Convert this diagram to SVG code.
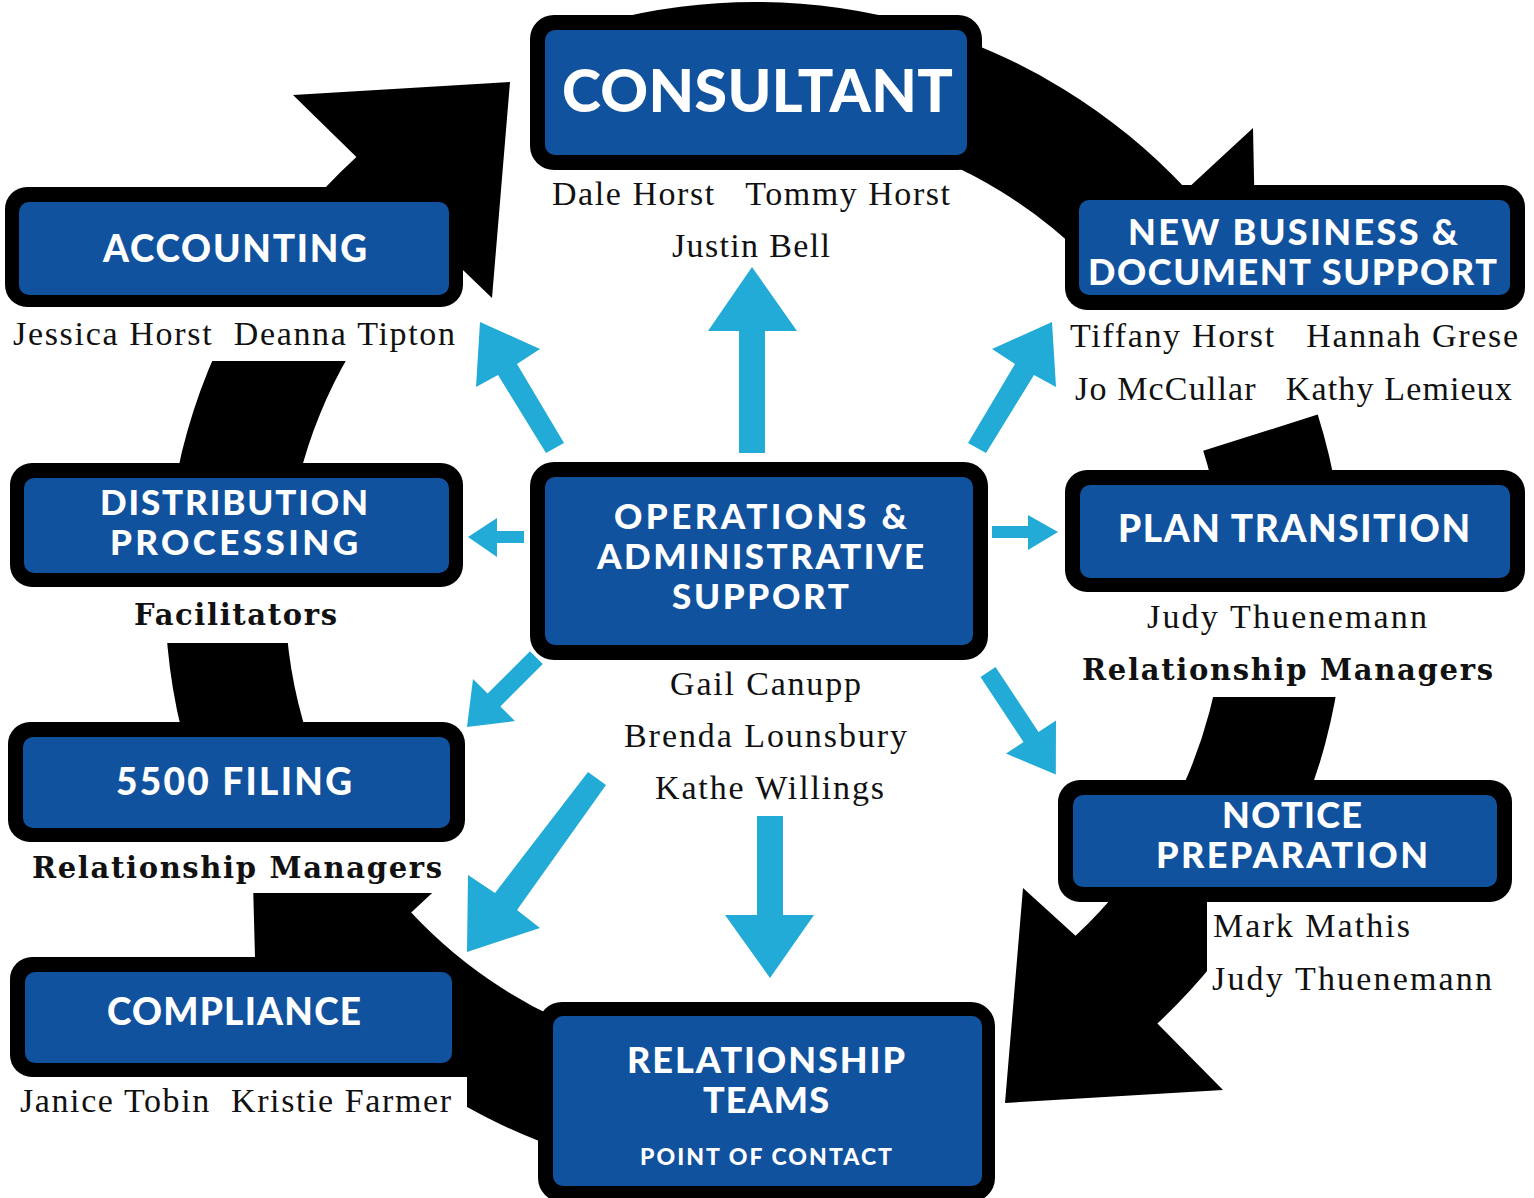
<svg xmlns="http://www.w3.org/2000/svg" width="1534" height="1198" viewBox="0 0 1534 1198">
<style>
.ring{fill:#000}
.bg{fill:#fff}
.ob{fill:#000}
.ib{fill:#11529f}
.h{font-family:Lato,"Open Sans","Liberation Sans",sans-serif;font-weight:900;fill:#fff;font-size:36px}
.h2{font-family:Lato,"Open Sans","Liberation Sans",sans-serif;font-weight:900;fill:#fff;font-size:35px}
.n{font-family:"Liberation Serif",serif;font-size:34px;fill:#111}
.nb{font-family:"DejaVu Serif","Liberation Serif",serif;font-size:29px;font-weight:bold;fill:#111}
.ar{fill:#21abd6}
</style>
<rect width="1534" height="1198" fill="#fff"/>
<g id="cycle">
<path class="ring" d="M200.6,793.8 A590,590 0 0 1 356.4,157 L293,95 L510,82 L492,298 L437.5,245.5 A470,470 0 0 0 313.3,752.7 Z"/>
<path class="ring" d="M602.3,22.1 A590,590 0 0 1 1186.5,189.6 L1253,128 L1256.8,315.5 L1069.5,298.7 L1098.8,271.5 A470,470 0 0 0 633.4,138 Z"/>
<path class="ring" d="M1317.7,414.6 A590,590 0 0 1 1157.4,1023.5 L1223,1090 L1005,1103 L1023,888 L1075.5,935.8 A470,470 0 0 0 1203.2,450.7 Z"/>
<path class="ring" d="M857.4,1173 A590,590 0 0 1 323.5,994.4 L257.6,1055.8 L252.3,855.7 L451.5,875 L411.2,912.5 A470,470 0 0 0 836.6,1054.9 Z"/>
</g>
<g id="label-backgrounds">
<rect class="bg" x="0" y="307" width="470" height="54"/>
<rect class="bg" x="0" y="587" width="470" height="56"/>
<rect class="bg" x="0" y="842" width="462" height="51"/>
<rect class="bg" x="0" y="1077" width="467" height="121"/>
<rect class="bg" x="1062" y="308" width="472" height="104"/>
<rect class="bg" x="1062" y="592" width="472" height="105"/>
<rect class="bg" x="1207" y="902" width="327" height="98"/>
</g>
<g id="connectors">
<polygon class="ar" points="752,267 797,331 765,331 765,453 739,453 739,331 708,331"/>
<polygon class="ar" points="480,322 540,349 517,364 564,443 546,453 498,375 476,387"/>
<polygon class="ar" points="1052,322 1056,387 1034,375 986,453 968,443 1015,364 992,349"/>
<polygon class="ar" points="468,537 497,518 497,531 524,531 524,543 497,543 497,557"/>
<polygon class="ar" points="1058,532 1028,515 1028,526 992,526 992,538 1028,538 1028,550"/>
<polygon class="ar" points="467,727 473,679 487.6,693.6 530,651.2 542.8,664 500.4,706.4 515,721"/>
<polygon class="ar" points="467,952 468,875 495,893 588,772 606,785 517,910 540,928"/>
<polygon class="ar" points="770,978 814,915 783,915 783,816 757,816 757,915 725,915"/>
<polygon class="ar" points="1055.8,774.5 1006,753.6 1023.5,742 980.5,677 995.5,667 1038.5,732 1056,720.4"/>
</g>
<g id="consultant">
<rect class="ob" x="530" y="15" width="452" height="155" rx="24"/>
<rect class="ib" x="545" y="30" width="422" height="125" rx="10"/>
<text class="h" x="562" y="112" style="font-size:59px" textLength="391" lengthAdjust="spacing">CONSULTANT</text>
<text class="n" xml:space="preserve" x="552" y="205" textLength="398">Dale Horst   Tommy Horst</text>
<text class="n" x="672" y="257" textLength="158">Justin Bell</text>
</g>
<g id="accounting">
<rect class="ob" x="5" y="187" width="458" height="120" rx="22"/>
<rect class="ib" x="19" y="202" width="430" height="93" rx="10"/>
<text class="h" x="103" y="262" style="font-size:37px" textLength="264" lengthAdjust="spacing">ACCOUNTING</text>
<text class="n" xml:space="preserve" x="13" y="345" textLength="442">Jessica Horst  Deanna Tipton</text>
</g>
<g id="new-business">
<rect class="ob" x="1065" y="185" width="460" height="125" rx="22"/>
<rect class="ib" x="1079" y="200" width="431" height="95" rx="10"/>
<text class="h" x="1128" y="245" textLength="330" lengthAdjust="spacing">NEW BUSINESS &amp;</text>
<text class="h" x="1088" y="285" textLength="409" lengthAdjust="spacing">DOCUMENT SUPPORT</text>
<text class="n" xml:space="preserve" x="1070" y="347" textLength="448">Tiffany Horst   Hannah Grese</text>
<text class="n" xml:space="preserve" x="1075" y="400" textLength="437">Jo McCullar   Kathy Lemieux</text>
</g>
<g id="distribution">
<rect class="ob" x="10" y="463" width="453" height="124" rx="22"/>
<rect class="ib" x="24" y="478" width="425" height="95" rx="10"/>
<text class="h2" x="100" y="515" textLength="268" lengthAdjust="spacing">DISTRIBUTION</text>
<text class="h2" x="110" y="555" textLength="248" lengthAdjust="spacing">PROCESSING</text>
<text class="nb" x="134" y="625" textLength="203">Facilitators</text>
</g>
<g id="operations">
<rect class="ob" x="530" y="462" width="458" height="198" rx="24"/>
<rect class="ib" x="545" y="477" width="428" height="168" rx="10"/>
<text class="h2" x="614" y="529" textLength="293" lengthAdjust="spacing">OPERATIONS &amp;</text>
<text class="h2" x="597" y="569" textLength="327" lengthAdjust="spacing">ADMINISTRATIVE</text>
<text class="h2" x="672" y="609" textLength="177" lengthAdjust="spacing">SUPPORT</text>
<text class="n" x="670" y="695" textLength="191">Gail Canupp</text>
<text class="n" x="624" y="747" textLength="283">Brenda Lounsbury</text>
<text class="n" x="655" y="799" textLength="229">Kathe Willings</text>
</g>
<g id="plan-transition">
<rect class="ob" x="1065" y="470" width="460" height="122" rx="22"/>
<rect class="ib" x="1080" y="485" width="430" height="93" rx="10"/>
<text class="h" x="1118" y="542" style="font-size:37px" textLength="352" lengthAdjust="spacing">PLAN TRANSITION</text>
<text class="n" x="1147" y="628" textLength="280">Judy Thuenemann</text>
<text class="nb" x="1082" y="680" textLength="411">Relationship Managers</text>
</g>
<g id="filing-5500">
<rect class="ob" x="8" y="722" width="457" height="120" rx="22"/>
<rect class="ib" x="23" y="737" width="427" height="91" rx="10"/>
<text class="h" x="116" y="795" style="font-size:37px" textLength="236" lengthAdjust="spacing">5500 FILING</text>
<text class="nb" x="32" y="878" textLength="410">Relationship Managers</text>
</g>
<g id="notice-preparation">
<rect class="ob" x="1058" y="780" width="454" height="122" rx="22"/>
<rect class="ib" x="1073" y="795" width="424" height="92" rx="10"/>
<text class="h" x="1222" y="828" textLength="140" lengthAdjust="spacing">NOTICE</text>
<text class="h" x="1156" y="868" textLength="272" lengthAdjust="spacing">PREPARATION</text>
<text class="n" x="1213" y="937" textLength="197">Mark Mathis</text>
<text class="n" x="1212" y="990" textLength="280">Judy Thuenemann</text>
</g>
<g id="compliance">
<rect class="ob" x="10" y="957" width="457" height="120" rx="22"/>
<rect class="ib" x="25" y="972" width="427" height="91" rx="10"/>
<text class="h" x="107" y="1025" style="font-size:37px" textLength="254" lengthAdjust="spacing">COMPLIANCE</text>
<text class="n" xml:space="preserve" x="20" y="1112" textLength="431">Janice Tobin  Kristie Farmer</text>
</g>
<g id="relationship-teams">
<rect class="ob" x="538" y="1002" width="457" height="200" rx="24"/>
<rect class="ib" x="553" y="1016" width="429" height="170" rx="10"/>
<text class="h" x="627" y="1073" textLength="278" lengthAdjust="spacing">RELATIONSHIP</text>
<text class="h" x="703" y="1113" textLength="126" lengthAdjust="spacing">TEAMS</text>
<text class="h" x="640" y="1165" style="font-size:23px" textLength="252" lengthAdjust="spacing">POINT OF CONTACT</text>
</g>
</svg>
